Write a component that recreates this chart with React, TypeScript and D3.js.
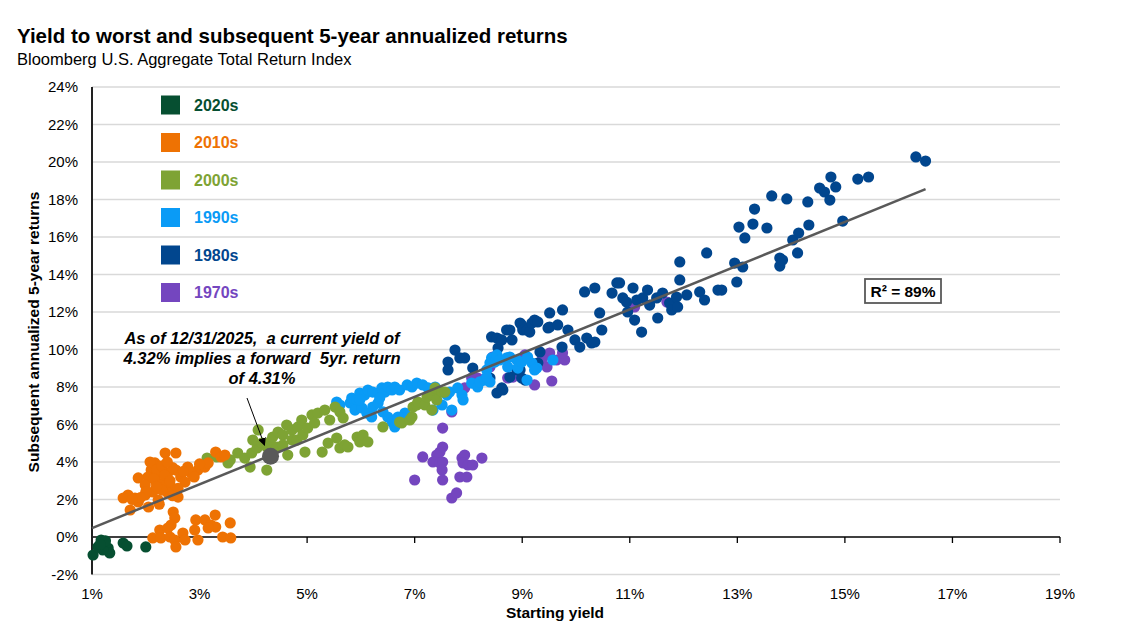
import React from 'react';
import * as d3 from 'd3';

// [starting yield %, subsequent 5-year annualized return %]
const d2020s: [number, number][] = [
  [1.02, -0.96], [1.17, -0.16], [1.24, -0.27], [1.11, -0.53], [1.3, -0.59], [1.33, -0.85],
  [1.2, -0.69], [1.58, -0.32], [1.65, -0.48], [2.0, -0.53], [1.25, -0.2], [1.15, -0.4],
];

const d2010s: [number, number][] = [
  [2.36, 4.48], [2.56, 4.48], [2.17, 3.95], [2.1, 3.57], [2.26, 3.41], [2.04, 3.2], [1.86, 3.15],
  [2.19, 2.93], [2.38, 3.15], [2.56, 3.57], [2.78, 3.73], [2.97, 3.57], [3.1, 3.73], [3.3, 4.53],
  [3.4, 4.27], [3.47, 4.37], [1.99, 2.77], [2.26, 2.61], [2.47, 2.67], [1.67, 2.24], [1.58, 2.08],
  [1.8, 2.08], [1.99, 2.24], [2.23, 1.97], [2.41, 2.35], [2.6, 2.13], [1.86, 1.87], [1.71, 1.44],
  [2.13, 2.4], [2.32, 2.88], [2.65, 3.2], [2.84, 3.41], [3.16, 3.95], [2.73, 2.93], [2.41, 3.41],
  [2.08, 4.0], [2.2, 3.6], [2.3, 3.8], [2.35, 3.3], [2.45, 3.0], [2.15, 3.1], [2.3, 2.5],
  [2.5, 3.7], [2.2, 2.7], [2.4, 4.0], [2.0, 2.4], [1.9, 2.1], [2.6, 2.6], [2.7, 3.5], [2.9, 3.2],
  [3.0, 3.9], [1.75, 2.0], [2.05, 1.6], [2.25, 1.75], [2.5, 2.2],
  [2.51, 1.33], [2.54, 1.01], [2.47, 0.64], [2.26, 0.37], [2.41, 0.48], [2.13, -0.05], [2.28, -0.05],
  [2.45, 0.0], [2.54, -0.16], [2.56, -0.53], [2.69, 0.21], [2.73, -0.16], [2.91, 0.37], [2.97, -0.16],
  [2.93, 0.91], [3.1, 0.91], [3.21, 0.64], [3.29, 1.17], [3.3, 0.53], [3.16, 0.48], [3.43, 0.0],
  [3.57, 0.75], [3.58, -0.05],
];

const d2000s: [number, number][] = [
  [3.14, 4.21], [3.32, 4.27], [3.53, 3.95], [3.57, 4.11], [3.71, 4.48], [3.84, 4.21], [3.94, 3.73],
  [3.97, 4.48], [4.07, 4.75], [4.09, 5.71], [3.99, 5.17], [4.16, 5.01], [4.25, 3.57], [4.25, 4.8],
  [4.31, 5.07], [4.36, 5.33], [4.44, 4.8], [4.46, 5.6], [4.55, 5.44], [4.55, 4.91], [4.62, 5.97],
  [4.64, 4.37], [4.72, 5.71], [4.72, 5.17], [4.81, 5.17], [4.83, 5.87], [4.9, 6.24], [4.92, 5.44],
  [4.96, 4.53], [5.01, 5.81], [5.09, 6.51], [5.14, 6.08], [5.2, 6.61], [5.28, 4.53], [5.33, 6.77],
  [5.39, 5.01], [5.42, 6.24], [5.52, 6.93], [5.55, 5.28], [5.61, 6.67], [5.61, 4.75], [5.67, 6.35],
  [5.7, 4.91], [5.76, 4.8], [5.93, 5.33], [5.98, 5.07], [6.04, 5.44], [6.13, 5.07], [6.41, 5.87],
  [6.72, 6.13], [6.76, 6.08], [6.91, 6.24], [6.95, 6.4], [6.97, 6.93], [7.04, 7.04], [7.06, 7.2],
  [7.19, 7.04], [7.23, 7.47], [7.32, 6.77], [7.34, 7.57], [7.38, 7.95], [7.41, 7.31], [7.51, 7.73],
  [7.56, 7.73],
];

const d1990s: [number, number][] = [
  [5.55, 7.2], [5.61, 7.04], [5.8, 7.15], [5.83, 7.41], [5.93, 7.31], [5.98, 7.68], [6.07, 7.57],
  [6.13, 7.84], [6.22, 7.73], [6.32, 7.68], [6.39, 7.95], [6.45, 7.73], [6.5, 8.0], [6.58, 7.84],
  [6.63, 8.0], [6.72, 7.84], [6.86, 8.11], [6.95, 8.0], [7.04, 8.21], [7.15, 8.11], [5.89, 6.77],
  [6.02, 6.88], [6.11, 6.61], [6.22, 6.93], [6.32, 7.15], [6.41, 6.67], [6.5, 6.4], [6.58, 6.13],
  [6.67, 6.13], [6.69, 6.4], [6.82, 6.61], [6.2, 6.4], [6.35, 7.41], [5.98, 7.31], [7.25, 7.95],
  [7.32, 7.73], [7.38, 8.0], [7.6, 7.57], [7.65, 7.73], [7.8, 7.95], [7.88, 7.57], [7.9, 7.31],
  [7.51, 7.04], [7.34, 6.77], [7.69, 6.77], [6.78, 6.35], [6.63, 5.87], [8.06, 8.21], [8.17, 8.0],
  [8.21, 8.27], [8.3, 8.37], [8.4, 8.27], [8.34, 8.91], [8.4, 9.28], [8.43, 9.55], [8.49, 9.33],
  [8.53, 9.71], [8.58, 9.44], [8.71, 9.55], [8.73, 9.07], [8.9, 9.44], [8.92, 9.01], [8.99, 9.33],
  [9.18, 9.28], [9.27, 9.01], [9.57, 9.44], [8.77, 9.6], [9.1, 9.6], [9.23, 8.91], [9.09, 8.37],
  [8.34, 8.53],
];

const d1980s: [number, number][] = [
  [7.62, 9.33], [7.62, 8.91], [7.75, 9.97], [7.84, 9.55], [7.93, 9.55], [8.08, 9.01], [8.4, 8.48],
  [8.53, 7.68], [8.62, 7.95], [8.64, 7.84], [8.77, 8.53], [8.9, 8.91], [8.96, 8.91], [8.99, 8.48],
  [9.05, 8.37], [9.29, 9.28], [9.33, 9.87], [8.43, 10.67], [8.53, 10.61], [8.62, 10.51], [8.55, 10.08],
  [8.71, 11.04], [8.77, 11.04], [8.81, 10.51], [8.96, 11.41], [8.99, 11.31], [9.01, 11.04], [9.09, 11.04],
  [9.14, 10.93], [9.18, 11.41], [9.23, 11.57], [9.29, 11.47], [9.48, 11.15], [9.51, 11.95], [9.51, 11.2],
  [9.66, 11.31], [9.74, 10.13], [9.75, 12.11], [9.85, 11.04], [9.98, 10.51], [10.07, 10.13],
  [10.2, 10.61], [10.29, 10.35], [10.35, 10.4], [10.44, 11.95], [10.48, 11.04], [10.16, 13.07],
  [10.35, 13.28], [10.67, 13.01], [10.76, 13.55], [10.81, 13.55], [10.87, 12.75], [10.94, 12.53],
  [10.96, 12.0], [11.06, 13.28], [11.09, 11.57], [11.13, 12.64], [11.22, 10.93], [11.24, 12.75],
  [11.33, 13.17], [11.37, 12.37], [11.5, 12.75], [11.52, 11.68], [11.61, 13.01], [11.74, 12.48],
  [11.78, 12.11], [11.87, 12.8], [11.89, 12.27], [11.93, 13.71], [11.93, 14.67], [12.06, 12.91],
  [12.3, 13.07], [12.39, 12.64], [12.43, 15.15], [12.64, 13.17], [12.71, 13.17], [12.95, 14.61],
  [12.99, 13.6], [13.03, 16.53], [13.1, 14.4], [13.14, 15.95], [13.29, 16.69], [13.32, 17.49],
  [13.55, 16.48], [13.64, 18.19], [13.79, 14.88], [13.79, 14.45], [13.84, 14.77], [13.92, 18.03],
  [14.03, 15.84], [14.12, 15.15], [14.14, 16.21], [14.31, 17.87], [14.33, 16.64], [14.53, 18.61],
  [14.62, 18.4], [14.72, 17.97], [14.74, 19.2], [14.83, 18.67], [14.96, 16.85], [15.24, 19.09],
  [15.44, 19.2], [16.32, 20.27], [16.5, 20.05],
];

const d1970s: [number, number][] = [
  [7.69, 6.67], [7.52, 5.81], [7.52, 4.8], [7.47, 4.53], [7.41, 4.37], [7.34, 4.0], [7.47, 3.95],
  [7.52, 4.0], [7.51, 3.57], [7.52, 3.04], [7.15, 4.27], [7.0, 3.04], [7.69, 2.08], [7.78, 2.35],
  [7.84, 3.2], [7.97, 3.2], [7.88, 4.21], [7.93, 4.37], [7.9, 3.95], [7.99, 3.84], [8.08, 3.84],
  [8.25, 4.21], [8.06, 8.48], [7.93, 7.95], [8.17, 8.48], [8.4, 9.07], [8.45, 9.6], [8.73, 8.48],
  [8.9, 8.64], [9.23, 8.11], [9.46, 9.07], [9.55, 8.32], [9.51, 9.81], [9.64, 9.44], [9.79, 9.44],
  [9.75, 9.81], [9.05, 9.71], [9.38, 9.55], [8.83, 8.53], [11.09, 12.27], [11.69, 12.53],
];

const decades = ['2020s', '2010s', '2000s', '1990s', '1980s', '1970s'];
const decadeColors = ['#064f31', '#ee7203', '#7ea334', '#0a9bf6', '#01468e', '#7446bf'];
const decadeData = [d2020s, d2010s, d2000s, d1990s, d1980s, d1970s];

const current: [number, number] = [4.32, 4.31];
const trendX = [1, 16.5];
const trendSlope = 1.166;
const trendIntercept = -0.69;

const xTicks = d3.range(1, 20, 2);
const yTicks = d3.range(-2, 25, 2);

const W = 1123;
const H = 641;
const FONT = '"Liberation Sans", Arial, sans-serif';

export default function App() {
  const x = d3.scaleLinear().domain([1, 19]).range([92, 1060]);
  const y = d3.scaleLinear().domain([-2, 24]).range([574.5, 87]);
  const fmt = (v: number) => `${v}%`;
  const trend = d3.line<number>().x((v) => x(v)).y((v) => y(trendSlope * v + trendIntercept));
  // draw oldest decade first so newer ones sit on top
  const drawOrder = d3.range(decades.length).reverse();

  return (
    <div style={{ position: 'absolute', left: 0, top: 0 }}>
      <svg width={W} height={H} style={{ display: 'block', background: '#fff' }} fontFamily={FONT}>
        <text x={17} y={43} fontSize={20.5} fontWeight="bold" fill="#000">
          Yield to worst and subsequent 5-year annualized returns
        </text>
        <text x={17} y={65} fontSize={16.5} fill="#000">
          Bloomberg U.S. Aggregate Total Return Index
        </text>

        {yTicks.filter((t) => t !== 0).map((t) => (
          <line key={'g' + t} x1={x(1)} x2={x(19)} y1={y(t)} y2={y(t)} stroke="#d9d9d9" strokeWidth={1.3} />
        ))}
        {yTicks.map((t) => (
          <text key={'yl' + t} x={78} y={y(t)} dy="0.35em" textAnchor="end" fontSize={15} fill="#000">
            {fmt(t)}
          </text>
        ))}
        {xTicks.map((t) => (
          <g key={'xt' + t}>
            <line x1={x(t)} x2={x(t)} y1={y(0)} y2={y(0) + 6} stroke="#000" strokeWidth={1.3} />
            <text x={x(t)} y={599} textAnchor="middle" fontSize={15} fill="#000">
              {fmt(t)}
            </text>
          </g>
        ))}
        <line x1={x(1)} x2={x(19)} y1={y(0)} y2={y(0)} stroke="#000" strokeWidth={1.5} />
        <line x1={x(1)} x2={x(1)} y1={y(24)} y2={y(-2)} stroke="#222" strokeWidth={2} />

        <text x={555} y={618} textAnchor="middle" fontSize={15.5} fontWeight="bold" fill="#000">
          Starting yield
        </text>
        <text
          transform="translate(39,332) rotate(-90)"
          textAnchor="middle"
          fontSize={15.5}
          fontWeight="bold"
          fill="#000"
        >
          Subsequent annualized 5-year returns
        </text>

        {drawOrder.map((i) => (
          <g key={decades[i]} fill={decadeColors[i]}>
            {decadeData[i].map((p, j) => (
              <circle key={j} cx={x(p[0])} cy={y(p[1])} r={5.6} />
            ))}
          </g>
        ))}

        <path d={trend(trendX) || ''} fill="none" stroke="#595959" strokeWidth={2.5} />
        <circle cx={x(current[0])} cy={y(current[1])} r={8.5} fill="#595959" />

        <defs>
          <marker id="arrowHead" viewBox="0 0 10 10" refX={9} refY={5} markerWidth={8} markerHeight={8} orient="auto" markerUnits="userSpaceOnUse">
            <path d="M0,0 L10,5 L0,10 z" fill="#000" />
          </marker>
        </defs>
        <line x1={247} y1={398} x2={x(current[0]) - 6} y2={y(current[1]) - 11} stroke="#000" strokeWidth={1} markerEnd="url(#arrowHead)" />
        <g fontSize={16.5} fontWeight="bold" fontStyle="italic" textAnchor="middle" fill="#000">
          <text x={262} y={344} xmlSpace="preserve">As of 12/31/2025,  a current yield of</text>
          <text x={262} y={364} xmlSpace="preserve">4.32% implies a forward  5yr. return</text>
          <text x={262} y={384}>of 4.31%</text>
        </g>

        <rect x={865} y={279} width={76} height={24} fill="#fff" stroke="#595959" strokeWidth={1.8} />
        <text x={903} y={297} textAnchor="middle" fontSize={15.5} fontWeight="bold" fill="#000">
          R² = 89%
        </text>

        {decades.map((d, i) => (
          <g key={'lg' + d} transform={`translate(161,${105 + i * 37.5})`}>
            <rect x={0} y={-9.5} width={19} height={19} fill={decadeColors[i]} />
            <text x={33} y={0} dy="0.36em" fontSize={16} fontWeight="bold" fill={decadeColors[i]}>
              {d}
            </text>
          </g>
        ))}
      </svg>
    </div>
  );
}
